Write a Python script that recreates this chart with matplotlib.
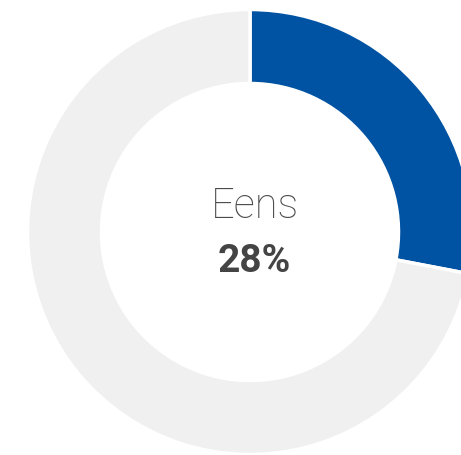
import matplotlib
matplotlib.use("Agg")
import matplotlib.pyplot as plt

labels = ["Eens", "Overig"]
values = [28, 72]
colors = ["#0052A2", "#F0F0F0"]
center_label = "Eens"
center_value = "28%"

fig = plt.figure(figsize=(4.61, 4.55), dpi=100)
ax = fig.add_axes([0, 0, 1, 1])
ax.pie(values, colors=colors, startangle=90, counterclock=False,
       center=(250, 223), radius=222.5,
       wedgeprops=dict(width=74, edgecolor="white", linewidth=2.5))
ax.set_xlim(0, 461)
ax.set_ylim(0, 455)
ax.set_aspect("equal")
ax.axis("off")
ax.text(255, 249, center_label, ha="center", va="center", fontsize=30,
        color="#4a4a4a", family=["Roboto", "DejaVu Sans"], fontweight="light")
ax.text(254, 193, center_value, ha="center", va="center", fontsize=28,
        color="#444444", family=["Roboto", "DejaVu Sans"], fontweight="bold")
fig.savefig("out.png", dpi=100)
